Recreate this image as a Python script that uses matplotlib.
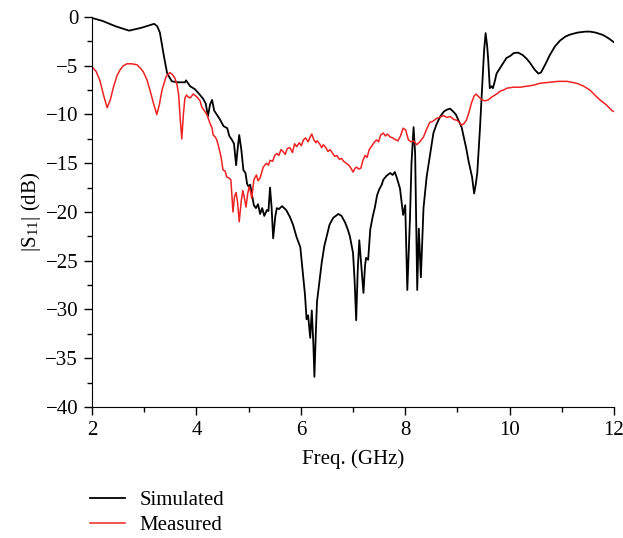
import matplotlib
matplotlib.use("Agg")
import matplotlib.pyplot as plt
from matplotlib.ticker import MultipleLocator

# simulated |S11| (GHz, dB)
sim_freq = [2.00, 2.20, 2.45, 2.71, 2.95, 3.10, 3.19, 3.25, 3.30, 3.38, 3.44, 3.53, 3.65, 3.78, 3.80,
            3.84, 3.88, 3.97, 4.07, 4.13, 4.18, 4.22, 4.26, 4.30, 4.34, 4.39, 4.45, 4.52, 4.59, 4.63,
            4.68, 4.72, 4.76, 4.79, 4.82, 4.86, 4.90, 4.94, 4.97, 5.00, 5.03, 5.07, 5.10, 5.14, 5.18,
            5.22, 5.26, 5.30, 5.35, 5.38, 5.41, 5.44, 5.47, 5.51, 5.54, 5.58, 5.64, 5.72, 5.79, 5.85,
            5.92, 5.99, 6.04, 6.08, 6.11, 6.14, 6.18, 6.21, 6.24, 6.26, 6.29, 6.31, 6.36, 6.40, 6.45,
            6.50, 6.55, 6.62, 6.72, 6.78, 6.85, 6.90, 6.94, 7.00, 7.03, 7.06, 7.09, 7.12, 7.15, 7.20,
            7.23, 7.25, 7.29, 7.33, 7.38, 7.42, 7.46, 7.50, 7.55, 7.58, 7.64, 7.71, 7.76, 7.80, 7.84,
            7.90, 7.96, 8.00, 8.04, 8.09, 8.12, 8.16, 8.19, 8.23, 8.26, 8.30, 8.35, 8.41, 8.48, 8.54,
            8.60, 8.67, 8.74, 8.80, 8.86, 8.92, 8.97, 9.02, 9.08, 9.12, 9.17, 9.21, 9.28, 9.32, 9.35,
            9.38, 9.43, 9.48, 9.51, 9.54, 9.57, 9.59, 9.62, 9.65, 9.68, 9.72, 9.75, 9.82, 9.88, 9.94,
            10.01, 10.08, 10.16, 10.25, 10.33, 10.39, 10.48, 10.55, 10.60, 10.68, 10.77, 10.87, 10.97,
            11.07, 11.16, 11.30, 11.45, 11.54, 11.65, 11.79, 11.90, 12.00]
sim_db = [-0.1, -0.4, -0.95, -1.4, -1.1, -0.85, -0.7, -0.95, -1.6, -4.1, -5.8, -6.6, -6.7, -6.7, -6.5,
          -6.8, -7.1, -7.4, -8.0, -8.4, -8.9, -10.2, -9.0, -8.5, -9.6, -10.0, -10.5, -11.2, -11.4, -12.2,
          -12.6, -13.0, -15.2, -13.5, -12.1, -13.6, -15.7, -16.0, -17.1, -17.4, -17.2, -18.4, -19.3, -19.6, -19.2,
          -20.2, -19.6, -20.4, -19.8, -19.9, -17.5, -19.5, -22.7, -20.5, -19.6, -19.7, -19.4, -19.8, -20.5, -21.3,
          -22.6, -23.6, -26.3, -28.5, -31.0, -30.6, -32.9, -30.1, -33.5, -36.9, -32.0, -29.2, -27.0, -25.2, -23.5,
          -22.4, -21.3, -20.6, -20.2, -20.4, -21.1, -21.8, -22.5, -24.2, -27.0, -31.1, -26.0, -22.9, -24.9, -28.3,
          -25.5, -24.7, -24.9, -21.8, -20.4, -19.5, -18.3, -17.7, -17.2, -16.7, -16.3, -16.0, -16.2, -15.9, -16.5,
          -17.6, -20.3, -19.3, -28.0, -20.8, -15.0, -11.3, -14.0, -28.0, -21.7, -26.7, -19.6, -16.4, -14.0, -11.9,
          -11.0, -10.2, -9.7, -9.5, -9.4, -9.7, -10.0, -10.6, -11.3, -12.3, -13.5, -14.7, -16.4, -18.1, -17.2,
          -16.0, -11.6, -6.5, -3.5, -1.65, -3.0, -4.4, -7.3, -7.1, -7.3, -6.5, -5.8, -5.2, -4.7, -4.2,
          -4.0, -3.7, -3.65, -3.9, -4.3, -4.7, -5.4, -5.8, -5.7, -4.9, -3.9, -3.0, -2.4,
          -2.0, -1.8, -1.6, -1.5, -1.5, -1.6, -1.85, -2.2, -2.6]

# measured |S11|
meas_freq = [2.00, 2.08, 2.15, 2.22, 2.29, 2.35, 2.41, 2.48, 2.54, 2.60, 2.67, 2.76, 2.86, 2.92, 2.98,
             3.05, 3.11, 3.18, 3.24, 3.29, 3.34, 3.42, 3.49, 3.54, 3.59, 3.63, 3.66, 3.69, 3.72, 3.75,
             3.78, 3.81, 3.84, 3.88, 3.94, 4.01, 4.07, 4.10, 4.15, 4.20, 4.26, 4.30, 4.32, 4.36, 4.39,
             4.43, 4.47, 4.51, 4.55, 4.58, 4.62, 4.66, 4.70, 4.73, 4.76, 4.79, 4.82, 4.86, 4.89, 4.92,
             4.95, 4.98, 5.01, 5.04, 5.06, 5.10, 5.15, 5.18, 5.22, 5.28, 5.34, 5.38, 5.41, 5.46, 5.50,
             5.54, 5.58, 5.62, 5.66, 5.70, 5.74, 5.79, 5.84, 5.88, 5.92, 5.97, 6.01, 6.05, 6.09, 6.14,
             6.18, 6.21, 6.25, 6.29, 6.31, 6.36, 6.40, 6.43, 6.48, 6.52, 6.56, 6.61, 6.65, 6.69, 6.74,
             6.78, 6.82, 6.87, 6.92, 6.96, 7.00, 7.04, 7.07, 7.11, 7.15, 7.19, 7.23, 7.27, 7.31, 7.35,
             7.40, 7.45, 7.49, 7.53, 7.58, 7.62, 7.66, 7.71, 7.76, 7.82, 7.86, 7.91, 7.96, 8.01, 8.06,
             8.11, 8.16, 8.22, 8.28, 8.35, 8.41, 8.47, 8.53, 8.60, 8.66, 8.73, 8.80, 8.86, 8.93, 8.99,
             9.04, 9.08, 9.13, 9.17, 9.22, 9.27, 9.32, 9.36, 9.41, 9.47, 9.53, 9.59, 9.66, 9.75, 9.82,
             9.88, 9.95, 10.07, 10.20, 10.33, 10.45, 10.58, 10.75, 10.93, 11.10, 11.29, 11.42, 11.54,
             11.65, 11.73, 11.85, 11.96, 12.00]
meas_db = [-5.1, -5.6, -6.5, -8.0, -9.3, -8.5, -7.2, -6.0, -5.4, -5.0, -4.8, -4.8, -4.9, -5.2, -5.6,
           -6.4, -7.5, -8.9, -10.0, -9.0, -7.5, -6.1, -5.7, -5.9, -6.3, -7.0, -8.0, -10.5, -12.5, -10.0,
           -8.3, -8.0, -8.2, -8.3, -7.9, -8.2, -8.6, -9.2, -9.6, -10.0, -10.9, -11.4, -12.1, -12.3, -12.6,
           -13.4, -14.3, -15.7, -15.8, -16.4, -16.5, -16.7, -20.0, -18.4, -18.0, -19.1, -21.0, -18.8, -17.8, -18.6,
           -19.5, -18.2, -17.4, -18.0, -18.6, -16.7, -16.2, -16.8, -16.5, -15.4, -15.0, -15.2, -14.7, -14.8, -14.2,
           -14.0, -14.2, -13.6, -13.8, -14.1, -13.5, -13.4, -13.9, -13.0, -13.3, -12.9, -13.2, -12.6, -12.4, -12.8,
           -12.3, -12.0, -12.6, -12.9, -12.7, -13.0, -13.4, -13.1, -13.4, -13.8, -13.6, -14.0, -14.3, -14.2, -14.6,
           -14.5, -14.8, -15.0, -15.2, -15.5, -15.9, -15.5, -15.4, -15.6, -15.5, -14.7, -14.2, -14.4, -13.6, -13.3,
           -12.9, -12.6, -12.8, -12.1, -11.9, -12.2, -12.0, -12.3, -12.4, -12.6, -12.7, -12.2, -11.4, -11.6, -12.6,
           -12.8, -12.7, -13.1, -12.8, -12.3, -11.5, -10.8, -10.7, -10.4, -10.3, -10.1, -10.3, -10.2, -10.5, -10.6,
           -10.8, -11.1, -10.9, -10.6, -9.8, -8.8, -8.1, -7.9, -8.2, -8.5, -8.6, -8.5, -8.2, -7.9, -7.6,
           -7.5, -7.3, -7.2, -7.2, -7.1, -7.0, -6.8, -6.7, -6.6, -6.6, -6.8, -7.1, -7.5,
           -8.1, -8.5, -9.0, -9.6, -9.7]

plt.rcParams['font.family'] = ['Liberation Serif', 'DejaVu Serif']
plt.rcParams['mathtext.fontset'] = 'stix'

fig = plt.figure(figsize=(6.23, 5.38), dpi=100)
ax = fig.add_axes([0.1477, 0.2435, 0.8379, 0.7249])

ax.plot(sim_freq, sim_db, color='black', lw=1.3, label='Simulated')
ax.plot(meas_freq, meas_db, color='#ee2222', lw=1.1, label='Measured')

ax.set_xlim(2, 12)
ax.set_ylim(-40, 0)
ax.xaxis.set_major_locator(MultipleLocator(2))
ax.xaxis.set_minor_locator(MultipleLocator(1))
ax.yaxis.set_major_locator(MultipleLocator(5))
ax.yaxis.set_minor_locator(MultipleLocator(2.5))
ax.spines['top'].set_visible(False)
ax.spines['right'].set_visible(False)
ax.tick_params(which='major', direction='out', length=6, width=1, labelsize=15, pad=4)
ax.tick_params(which='minor', direction='out', length=3.5, width=1)

ax.set_xlabel('Freq. (GHz)', fontsize=15, labelpad=7)
ax.set_ylabel(r'|S$_{\mathregular{11}}$| (dB)', fontsize=15, labelpad=2)

fig.legend(loc='upper left', bbox_to_anchor=(0.1445, 0.088), frameon=False, fontsize=15,
           borderpad=0, borderaxespad=0, handlelength=1.7, handletextpad=0.67,
           labelspacing=0.25)

fig.savefig('out.png', dpi=100)
